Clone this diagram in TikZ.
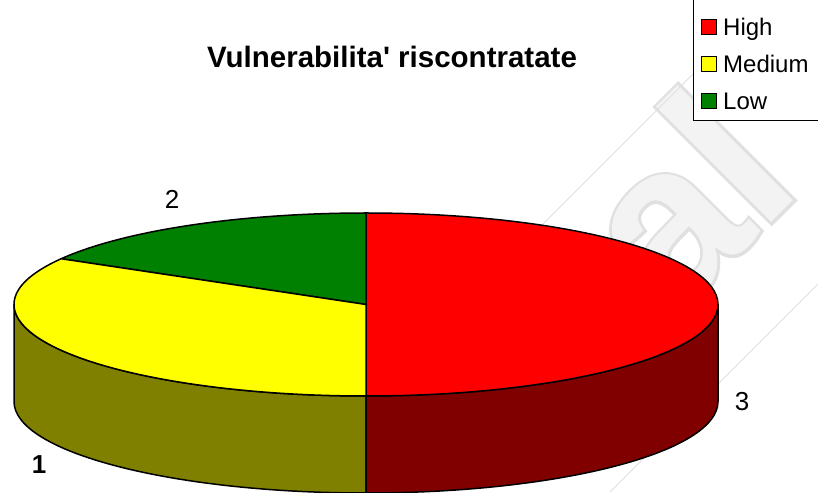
\documentclass[tikz,border=0pt]{standalone}
\usepackage{fontspec}
\setmainfont{Liberation Sans}[Ligatures=TeXOff]
\newfontfamily\wmoutline{Liberation Sans Bold}[FakeBold=2.5]
\newfontfamily\wmplain{Liberation Sans Bold}
\definecolor{hiTop}{RGB}{255,0,0}
\definecolor{hiSide}{RGB}{128,0,0}
\definecolor{medTop}{RGB}{255,255,0}
\definecolor{medSide}{RGB}{128,128,0}
\definecolor{lowTop}{RGB}{0,128,0}
\definecolor{wmfill}{RGB}{243,243,243}
\definecolor{wmstroke}{RGB}{224,224,224}
\begin{document}
\begin{tikzpicture}[x=1pt,y=1pt,
  edge/.style={draw=black,line width=1.5pt,line join=round},
  wmline/.style={draw=wmstroke,line width=1pt},
  wmtext/.style={rotate=45,anchor=base west,inner sep=0pt},
  swatch/.style={draw=black,line width=1.4pt,minimum size=15pt,inner sep=0pt},
  legtext/.style={anchor=west,inner sep=0pt,font=\fontsize{24}{24}\selectfont},
  datalabel/.style={inner sep=0pt,font=\fontsize{26}{26}\selectfont}]
\useasboundingbox (0,0) rectangle (818,492);
\fill[white] (0,0) rectangle (818,492);

% faint background watermark: outlined letters and a diagonal band
\node[wmtext,text=wmstroke,font=\wmoutline\fontsize{225}{225}\selectfont] (wmo) at (672,170) {al};
\node[wmtext,text=wmfill,font=\wmplain\fontsize{225}{225}\selectfont] (wm) at (672,170) {al};
\draw[wmline] (420,145) -- (767,492);
\draw[wmline] (610,0) -- (818,208);

% pie geometry
\def\cx{366}\def\cy{187.5}\def\rx{352}\def\ry{91.5}\def\dp{97}

% side walls (front half)
\path[edge,fill=medSide] (\cx-\rx,\cy) -- (\cx-\rx,\cy-\dp)
  arc[start angle=180,end angle=270,x radius=\rx,y radius=\ry]
  -- (\cx,\cy-\ry)
  arc[start angle=270,end angle=180,x radius=\rx,y radius=\ry] -- cycle;
\path[edge,fill=hiSide] (\cx,\cy-\ry-\dp)
  arc[start angle=270,end angle=360,x radius=\rx,y radius=\ry]
  -- (\cx+\rx,\cy)
  arc[start angle=0,end angle=-90,x radius=\rx,y radius=\ry] -- cycle;

% top slices
\path[edge,fill=hiTop] (\cx,\cy) -- (\cx,\cy+\ry)
  arc[start angle=90,end angle=-90,x radius=\rx,y radius=\ry] -- cycle;
\path[edge,fill=lowTop] (\cx,\cy) -- (\cx,\cy+\ry)
  arc[start angle=90,end angle=150,x radius=\rx,y radius=\ry] -- cycle;
\path[edge,fill=medTop] (\cx,\cy) -- ({\cx+\rx*cos(150)},{\cy+\ry*sin(150)})
  arc[start angle=150,end angle=270,x radius=\rx,y radius=\ry] -- cycle;

% data labels
\node[datalabel] (lbl2) at (172,293) {2};
\node[datalabel] (lbl3) at (742,91) {3};
\node[datalabel,font=\bfseries\fontsize{26}{26}\selectfont] (lbl1) at (39,27) {1};

% title
\node[inner sep=0pt,font=\bfseries\fontsize{29.5}{29.5}\selectfont] (title) at (392,435)
  {Vulnerabilita' riscontratate};

% legend
\draw[fill=white,line width=1pt] (693,371) rectangle (822,496);
\node[swatch,fill=hiTop]  (swH) at (709,465) {};
\node[swatch,fill=medTop] (swM) at (709,428) {};
\node[swatch,fill=lowTop] (swL) at (709,391) {};
\node[legtext] (tH) at (723,465) {High};
\node[legtext] (tM) at (723,428) {Medium};
\node[legtext] (tL) at (723,391) {Low};
\end{tikzpicture}
\end{document}
